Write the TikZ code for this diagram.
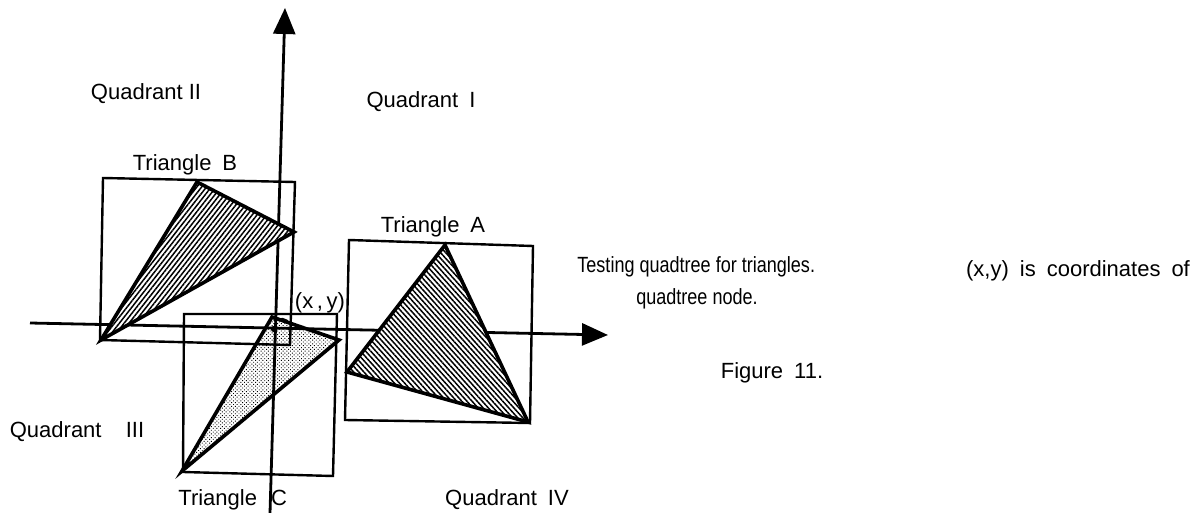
\documentclass[tikz,border=0pt]{standalone}
\usepackage{fontspec}
\setmainfont{Liberation Sans}
\newfontfamily\narrowsans[FakeStretch=0.82]{Liberation Sans}
\usetikzlibrary{arrows.meta,patterns.meta}
\tikzset{
  axisline/.style={line width=1.4pt,-{Triangle[length=13pt,width=11pt]}},
  boxline/.style={line width=1.2pt,line join=miter},
  triline/.style={line width=1.8pt,line join=miter},
  lbl/.style={inner sep=0pt,font=\fontsize{11}{13}\selectfont},
  narrowlbl/.style={inner sep=0pt,font=\narrowsans\fontsize{11}{13}\selectfont},
  hatchB/.style={pattern={Lines[angle=52,distance=1.9pt,line width=0.75pt]}},
  hatchA/.style={pattern={Lines[angle=-48,distance=1.9pt,line width=0.75pt]}},
  dotsC/.style={pattern={Dots[angle=45,distance=1.3pt,radius=0.33pt]}}
}
\begin{document}
\begin{tikzpicture}[x=0.5pt,y=-0.5pt]
\useasboundingbox (0,0) rectangle (1199,513);
% coordinates
\coordinate (yb) at (270,513);
\coordinate (yt) at (285,8);
\coordinate (xl) at (30,323);
\coordinate (xr) at (608,335);
\coordinate (B1) at (197,182);
\coordinate (B2) at (294,232);
\coordinate (B3) at (101,340);
\coordinate (C1) at (272,317);
\coordinate (C2) at (339,340);
\coordinate (C3) at (182,471);
\coordinate (A1) at (445,245);
\coordinate (A2) at (347,372);
\coordinate (A3) at (528,422);
% axes
\draw[axisline] (yb) -- (yt);
\draw[axisline] (xl) -- (xr);
% boxes
\draw[boxline] (103,178) -- (295,182) -- (290,345) -- (100,340) -- cycle;
\draw[boxline] (184,314) -- (337,314) -- (333,476) -- (183,472) -- cycle;
\draw[boxline] (349,240) -- (533,246) -- (530,423) -- (345,420) -- cycle;
% triangle B
\fill[white] (B1) -- (B2) -- (B3) -- cycle;
\fill[hatchB] (B1) -- (B2) -- (B3) -- cycle;
\draw[triline] (B1) -- (B2) -- (B3) -- cycle;
% triangle A
\fill[white] (A1) -- (A2) -- (A3) -- cycle;
\fill[hatchA] (A1) -- (A2) -- (A3) -- cycle;
\draw[triline] (A1) -- (A2) -- (A3) -- cycle;
% triangle C
\fill[dotsC] (C1) -- (C2) -- (C3) -- cycle;
\draw[triline] (C1) -- (C2) -- (C3) -- cycle;
% quadtree node point
\fill (274,329) circle (1.6pt) coordinate (pt);
\draw[line width=0.8pt] (274,321) .. controls (279,317) and (287,318) .. (290,324);
% labels
\node[lbl] (q2) at (146,94) {Quadrant II};
\node[lbl] (q1) at (421,102) {Quadrant\enspace I};
\node[lbl] (q3) at (77,432) {Quadrant\hspace{1.1em}III};
\node[lbl] (q4) at (507,500) {Quadrant\enspace IV};
\node[lbl] (tb) at (185,165) {Triangle\enspace B};
\node[lbl] (ta) at (433,227) {Triangle\enspace A};
\node[lbl,anchor=west] (tc) at (178,500) {Triangle\hspace{7pt}C};
\node[lbl] (xy) at (320,303) {(x\,,\,y)};
\node[narrowlbl,anchor=west] (t1) at (577,267) {Testing quadtree for triangles.};
\node[narrowlbl] (t2) at (697,299) {quadtree node.};
\node[lbl] (t3) at (1078,271) {(x,y)\enspace is\enspace coordinates\enspace of};
\node[lbl] (fig) at (772,373) {Figure\enspace 11.};
\end{tikzpicture}
\end{document}
